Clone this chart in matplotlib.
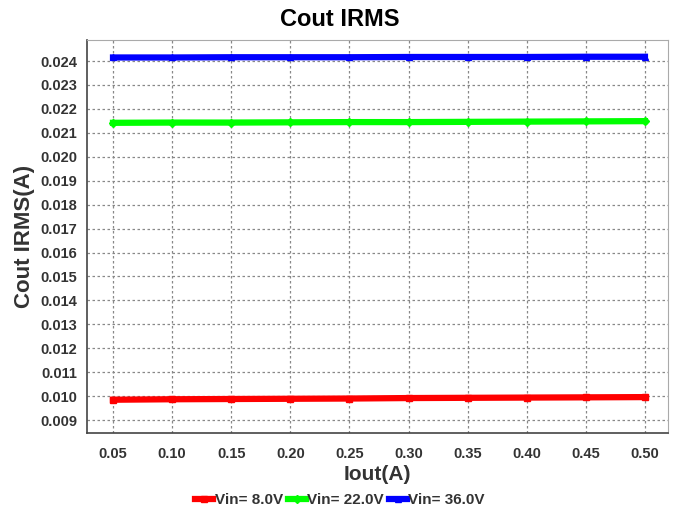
import matplotlib
matplotlib.use("Agg")
import matplotlib.pyplot as plt

plt.rcParams['font.family'] = ['Liberation Sans', 'DejaVu Sans']

iout = [0.05, 0.10, 0.15, 0.20, 0.25, 0.30, 0.35, 0.40, 0.45, 0.50]
vin8 = [0.00985, 0.00987, 0.00988, 0.00989, 0.00990, 0.00992, 0.00993, 0.00994, 0.00995, 0.00996]
vin22 = [0.02142, 0.02143, 0.02143, 0.02144, 0.02145, 0.02145, 0.02146, 0.02147, 0.02148, 0.02149]
vin36 = [0.02415, 0.02415, 0.02416, 0.02416, 0.02416, 0.02417, 0.02417, 0.02417, 0.02418, 0.02418]
xticks = [0.05, 0.10, 0.15, 0.20, 0.25, 0.30, 0.35, 0.40, 0.45, 0.50]
yticks = [0.009, 0.010, 0.011, 0.012, 0.013, 0.014, 0.015, 0.016, 0.017, 0.018,
          0.019, 0.020, 0.021, 0.022, 0.023, 0.024]

fig = plt.figure(figsize=(6.8, 5.14), dpi=100)
ax = fig.add_axes([87/680, 1 - 433/514, (668-87)/680, (433-40)/514])

ax.plot(iout, vin8, color='#ff0000', lw=4.5, marker='s', ms=5, label='Vin= 8.0V')
ax.plot(iout, vin22, color='#00ff00', lw=4.5, marker='D', ms=4, label='Vin= 22.0V')
ax.plot(iout, vin36, color='#0000ff', lw=4.5, marker='^', ms=4, label='Vin= 36.0V')

ax.set_xlim(0.028, 0.5195)
ax.set_ylim(0.00846, 0.02488)
ax.set_xticks(xticks)
ax.set_xticklabels([f"{v:.2f}" for v in xticks])
ax.set_yticks(yticks)
ax.set_yticklabels([f"{v:.3f}" for v in yticks])
ax.grid(True, linestyle=(0, (2, 2)), color='#888888', lw=0.9)
ax.tick_params(axis='y', length=0, pad=7, labelsize=10.5, colors='#333333')
ax.tick_params(axis='x', length=0, pad=10, labelsize=10.5, colors='#333333')
for lbl in ax.get_xticklabels() + ax.get_yticklabels():
    lbl.set_fontweight('bold')

for side in ['top', 'right']:
    ax.spines[side].set_color('#aaaaaa')
for side in ['left', 'bottom']:
    ax.spines[side].set_color('#444444')
    ax.spines[side].set_linewidth(1.2)

fig.text(0.5, 1 - 19/514, 'Cout IRMS', ha='center', va='center', fontsize=17, fontweight='bold')
ax.set_xlabel('Iout(A)', fontsize=15, fontweight='bold', color='#333333', labelpad=3)
ax.set_ylabel('Cout IRMS(A)', fontsize=16, fontweight='bold', color='#333333', labelpad=4)

leg = fig.legend(loc='center', bbox_to_anchor=(0.5, 1 - 500/514), ncol=3, frameon=False,
                 handlelength=1.2, handletextpad=0.1, columnspacing=0.3,
                 prop={'weight': 'bold', 'size': 11})
for t in leg.get_texts():
    t.set_color('#333333')

fig.savefig('out.png', dpi=100)
